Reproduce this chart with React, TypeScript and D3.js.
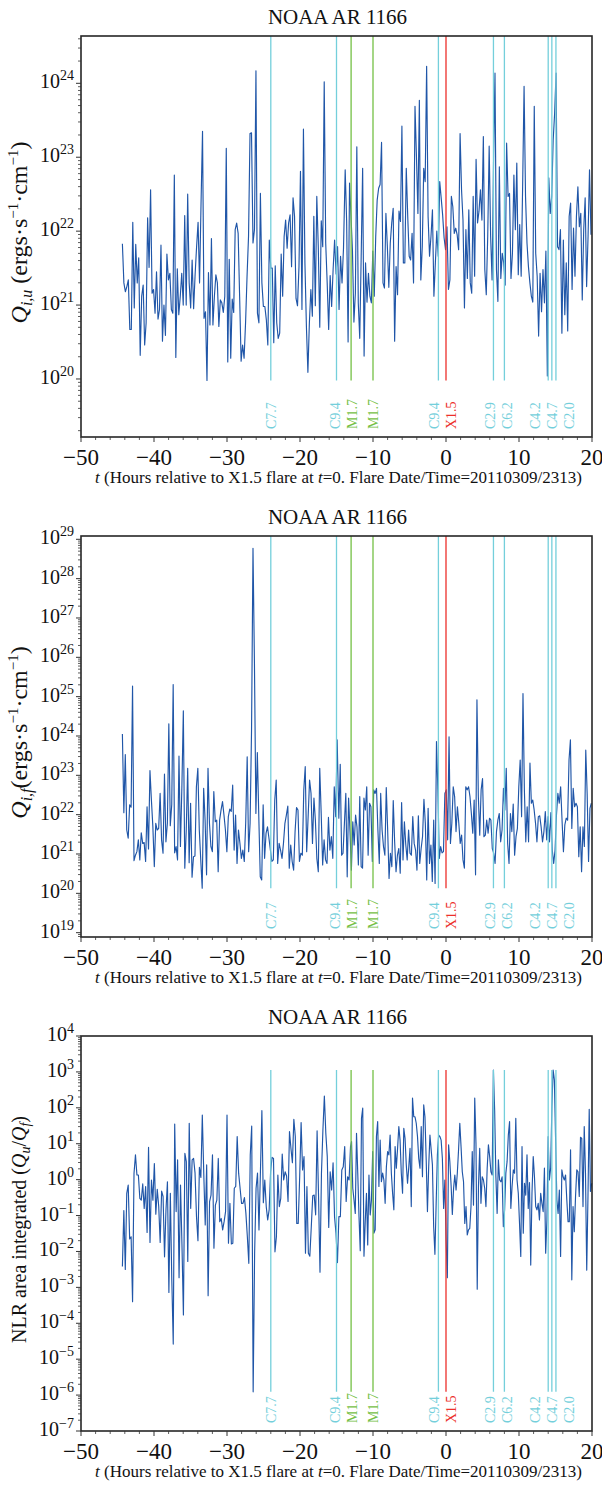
import React from 'react';
import * as d3 from 'd3';

// ---------------- DATA (log10 of the plotted quantity) ----------------
// Each series is sampled in two segments; times are hours relative to the X1.5 flare.
const qiuSpanA = [-44.33, -14.04];
const qiuLog10A = [
  21.83, 21.30, 21.18, 21.25, 21.34, 20.67, 20.67, 22.12, 20.96, 21.82,
  21.30, 21.64, 20.32, 21.12, 21.27, 20.46, 20.76, 22.18, 21.51, 22.56,
  21.16, 21.21, 20.89, 21.45, 20.81, 20.94, 21.81, 20.51, 21.00, 20.59,
  21.69, 21.34, 21.43, 20.94, 20.89, 22.76, 20.29, 21.49, 20.87, 21.12,
  21.43, 21.00, 22.21, 21.00, 22.50, 21.30, 20.96, 21.61, 20.95, 21.41,
  21.79, 22.12, 21.30, 22.38, 23.35, 20.82, 20.91, 19.98, 21.44, 20.73,
  21.90, 20.73, 21.12, 21.41, 21.30, 20.71, 21.07, 21.03, 20.90, 21.12,
  23.12, 20.23, 21.62, 20.28, 21.08, 20.90, 22.02, 22.11, 21.97, 21.12,
  20.24, 20.46, 20.28, 20.76, 21.39, 21.93, 23.32, 23.33, 21.84, 22.02,
  24.17, 20.89, 20.76, 22.51, 21.30, 20.98, 20.98, 20.80, 20.46, 21.88,
  21.50, 21.50, 20.49, 21.53, 20.76, 20.55, 20.62, 21.69, 21.12, 21.93,
  22.15, 21.77, 22.11, 22.22, 21.52, 22.45, 22.20, 21.09, 20.99, 21.52,
  22.81, 20.94, 23.38, 21.57, 20.71, 20.09, 20.76, 21.21, 20.85, 22.20,
  20.99, 22.47, 21.79, 20.70, 22.14, 21.79, 24.02, 21.84, 21.30, 20.67,
  21.40, 20.98, 21.48, 21.88, 21.42, 21.79, 20.94, 21.66, 21.30, 21.77,
];
const qiuSpanB = [-13.81, 19.86];
const qiuLog10B = [
  22.83, 22.13, 20.50, 22.65, 22.20, 21.73, 20.77, 21.16, 23.14, 21.03,
  20.55, 21.66, 22.85, 20.31, 21.57, 21.04, 21.43, 21.12, 21.03, 21.73,
  21.12, 21.93, 22.42, 22.58, 22.63, 23.20, 21.30, 21.23, 22.24, 21.79,
  21.24, 21.84, 22.11, 22.31, 20.51, 21.52, 21.14, 22.27, 22.13, 23.42,
  21.57, 21.57, 22.85, 22.20, 21.66, 21.61, 21.97, 21.30, 23.69, 23.01,
  22.24, 23.77, 21.34, 21.79, 22.85, 22.67, 24.23, 22.20, 21.66, 21.93,
  22.29, 21.12, 21.57, 22.00, 21.66, 22.67, 22.45, 22.22, 21.91, 21.75,
  22.06, 21.21, 21.34, 22.47, 22.33, 21.97, 22.04, 21.95, 21.75, 23.32,
  22.56, 22.15, 20.96, 22.02, 21.36, 22.29, 21.30, 21.16, 22.47, 21.39,
  22.97, 22.11, 22.27, 22.56, 22.15, 23.28, 21.48, 21.14, 21.93, 23.15,
  21.93, 21.34, 22.92, 24.14, 21.48, 21.05, 22.87, 21.36, 21.70, 21.57,
  21.27, 23.19, 22.47, 22.51, 21.36, 21.70, 22.76, 22.02, 22.92, 21.41,
  22.09, 21.39, 22.60, 23.96, 22.47, 21.84, 21.52, 21.30, 21.12, 21.04,
  23.69, 21.70, 21.39, 20.58, 21.43, 20.91, 21.48, 21.03, 21.73, 20.04,
  22.72, 22.24, 22.47, 23.23, 23.59, 24.14, 21.79, 21.75, 22.02, 20.62,
  21.88, 20.87, 21.57, 20.65, 22.20, 22.38, 21.21, 22.04, 21.39, 22.20,
  22.60, 22.06, 22.24, 21.07, 22.02, 22.45, 21.25, 21.93, 22.83, 21.95,
];

const qifSpanA = [-44.33, -14.91];
const qifLog10A = [
  24.05, 22.05, 23.53, 21.61, 21.40, 22.25, 22.19, 25.27, 20.83, 20.97,
  21.06, 21.36, 20.85, 21.54, 21.27, 21.29, 20.81, 22.20, 21.13, 23.12,
  22.37, 21.69, 20.68, 21.78, 21.61, 21.65, 22.54, 21.36, 21.02, 23.03,
  21.31, 21.78, 24.31, 21.72, 22.25, 25.31, 21.03, 21.19, 20.85, 23.49,
  21.19, 22.71, 24.64, 20.64, 21.61, 23.18, 20.78, 22.29, 20.41, 20.93,
  20.95, 22.71, 23.18, 21.61, 20.85, 20.13, 22.67, 21.86, 20.47, 23.18,
  21.78, 21.19, 21.06, 22.59, 21.82, 21.86, 20.55, 21.86, 22.12, 22.33,
  21.99, 21.61, 21.06, 21.95, 22.14, 22.08, 22.75, 21.10, 21.99, 20.76,
  21.61, 21.27, 20.89, 21.10, 20.81, 21.82, 23.47, 21.06, 21.78, 24.15,
  28.77, 25.85, 22.03, 23.58, 21.95, 20.42, 20.34, 22.25, 20.89, 21.53,
  21.69, 21.40, 21.10, 20.81, 20.85, 22.37, 22.88, 20.76, 21.27, 21.10,
  20.89, 21.27, 21.78, 21.99, 22.22, 20.64, 21.23, 20.81, 20.59, 21.57,
  22.18, 22.12, 20.81, 21.02, 20.97, 22.63, 23.22, 21.06, 21.95, 22.88,
  22.54, 21.27, 22.42, 21.86, 20.89, 20.55, 23.18, 22.03, 20.72, 21.36,
  20.85, 20.76, 21.93, 21.10, 21.44, 20.89, 22.71, 21.95, 23.90,
];
const qifSpanB = [-14.68, 19.91];
const qifLog10B = [
  21.91, 23.28, 20.97, 21.02, 21.78, 22.54, 20.42, 22.42, 21.57, 20.59,
  21.82, 21.23, 21.99, 21.69, 20.72, 22.46, 20.68, 20.64, 22.42, 22.12,
  22.71, 20.97, 22.29, 22.20, 20.81, 22.63, 22.54, 22.67, 21.61, 20.76,
  22.54, 21.61, 21.19, 20.97, 22.69, 21.61, 20.38, 21.02, 20.68, 22.36,
  21.31, 20.55, 20.97, 21.14, 20.51, 22.31, 20.85, 21.82, 21.23, 20.85,
  21.61, 21.02, 20.97, 21.95, 21.27, 21.10, 20.59, 21.97, 20.76, 21.14,
  21.44, 22.39, 21.78, 20.34, 22.16, 20.76, 21.23, 20.30, 21.86, 20.25,
  23.86, 22.63, 20.89, 21.19, 21.03, 21.06, 22.54, 22.63, 21.36, 23.98,
  21.27, 21.78, 22.71, 22.46, 21.57, 22.20, 21.78, 21.27, 21.48, 20.85,
  20.64, 22.71, 22.63, 22.71, 22.46, 22.03, 21.53, 22.37, 20.47, 24.92,
  22.46, 21.48, 22.63, 22.92, 21.44, 21.48, 21.86, 21.53, 21.91, 21.86,
  21.14, 21.02, 20.76, 21.57, 21.86, 22.03, 21.31, 21.61, 22.67, 22.12,
  23.18, 21.27, 20.76, 22.03, 21.57, 22.27, 20.97, 21.44, 21.65, 22.71,
  23.39, 21.95, 25.08, 22.63, 21.31, 22.20, 21.31, 23.31, 22.29, 22.37,
  22.12, 21.78, 21.31, 21.95, 21.97, 21.69, 21.31, 21.57, 22.08, 21.36,
  21.95, 21.31, 22.05, 21.10, 20.76, 21.10, 21.99, 22.54, 22.29, 22.71,
  21.86, 21.06, 21.74, 21.91, 21.86, 23.39, 23.90, 21.65, 22.67, 22.20,
  22.29, 22.20, 20.93, 21.69, 20.55, 21.69, 21.19, 23.64, 22.54, 20.81,
  22.16, 22.29,
];

const ratioSpanA = [-44.33, -13.08];
const ratioLog10A = [
  -2.42, -0.86, -2.50, -0.38, -0.15, -1.65, -1.59, -3.40, 0.18, 0.69,
  0.13, 0.13, -0.52, -0.57, -0.12, -0.80, -0.19, -1.47, 0.90, -1.75,
  -0.01, -0.57, 0.45, -0.96, -0.27, -0.75, -1.75, -0.32, -0.47, -2.15,
  -0.84, -0.06, -3.14, -0.38, -2.79, -4.58, 1.55, -0.89, 0.55, -2.73,
  -0.15, -1.82, -3.77, 0.73, 0.50, -2.28, 1.57, -0.80, 0.55, 0.59,
  0.18, -1.03, -1.70, 0.34, 0.06, 1.80, 0.18, -1.26, 0.41, -3.23,
  -0.61, -0.43, 0.69, -1.91, -0.71, -0.57, 0.59, -1.17, -1.08, -1.40,
  -1.17, -0.89, 1.80, -1.77, -0.66, -1.79, -1.77, -0.24, -0.19, 1.20,
  0.18, -0.24, -0.66, -0.66, -0.50, -0.94, -1.59, -2.33, 0.69, 1.49,
  -5.91, -2.05, -0.24, 0.18, -1.40, 0.22, 1.92, -0.64, -0.01, -0.75,
  -1.12, -0.84, 0.22, 0.62, 0.59, -2.01, -1.59, 0.13, -0.75, -0.52,
  0.71, -0.01, 0.22, 0.10, -0.61, 1.34, 0.87, 0.47, 1.68, 1.20,
  -1.22, -1.22, 0.06, 1.59, 0.27, 0.64, -2.05, -0.19, -2.05, -2.13,
  -1.31, -0.45, -0.43, -0.98, 1.36, -0.47, -2.58, 0.18, 1.38, 2.33,
  1.29, 0.64, -1.33, 0.22, -0.29, 0.47, -1.03, -1.49, -2.31, -1.03,
  -1.03, 0.27, 0.36, 0.92, -0.61, 0.08, -0.01, 0.92,
];
const ratioSpanB = [-12.94, 19.96];
const ratioLog10B = [
  1.06, -0.24, -0.57, -0.94, 1.29, 0.18, -1.03, -1.98, 1.71, 1.99,
  -2.13, -1.17, -0.38, -1.82, 0.13, -0.98, -0.57, 0.78, -1.49, -1.40,
  1.20, 1.62, -0.19, 1.10, -0.06, 0.18, -0.01, -0.66, 0.36, 0.78,
  0.69, 1.24, 0.18, -0.38, -0.84, 0.92, 0.32, 0.87, 1.48, 1.10,
  0.18, -0.38, 1.43, 1.15, 0.41, -0.10, 0.36, 0.87, -0.75, 2.27,
  1.75, 1.75, 1.57, 1.20, 0.59, 0.32, 1.48, 0.08, 2.08, 1.75,
  0.55, -0.89, 0.36, 1.24, 0.83, 0.41, -1.31, -2.08, -0.66, 0.69,
  1.24, 1.20, 1.10, 0.59, -0.80, -0.01, -1.68, -2.73, 0.97, 0.50,
  -0.15, -0.97, -0.24, 0.13, -0.29, 0.18, 0.83, 1.57, 0.92, 0.22,
  -0.06, -1.22, -0.75, -1.54, -1.40, -1.36, -0.75, 0.78, -0.71, 2.27,
  1.01, -3.05, -0.19, 0.87, -0.66, 0.08, -0.01, -0.24, -0.75, 0.32,
  0.97, 0.64, 0.22, 0.13, 3.05, 1.94, 0.08, -0.94, 0.55, -0.01,
  -0.06, 0.08, -1.31, -0.84, 0.18, 0.50, 1.24, 1.62, -0.80, -0.19,
  0.27, 0.18, 1.71, -0.01, -0.38, -1.22, -2.14, 0.92, -1.49, -0.10,
  -0.43, 0.69, -0.80, -0.08, -2.38, -0.38, 0.64, 0.08, -0.75, -0.84,
  -0.66, -1.12, -0.38, -0.66, -0.89, 0.32, -2.05, -1.12, 1.20, -0.01,
  0.32, 2.03, 3.05, 2.78, 1.10, -0.57, -0.94, -0.29, -2.14, 0.27,
  0.08, -0.01, 0.13, -0.57, -1.17, -1.17, 0.83, -2.79, -0.75, -1.45,
  -0.47, 0.27, 0.22, -0.47, 1.18, 1.15, -0.75, 1.48, 0.18, -2.52,
  -0.47, 1.96, -0.33, -0.10,
];

// Flares (hours relative to X1.5) and their GOES class labels
const flareTimes = [-24.0, -15.0, -13.0, -10.0, -1.04, 0.0, 6.5, 8.0, 14.0, 14.5, 15.06];
const flareNames = ['C7.7', 'C9.4', 'M1.7', 'M1.7', 'C9.4', 'X1.5', 'C2.9', 'C6.2', 'C4.2', 'C4.7', 'C2.0'];

const xTickValues = [-50, -40, -30, -20, -10, 0, 10, 20];
const xDomain = [-50, 20];
const panelTitle = 'NOAA AR 1166';
const xTitleParts = ['t', ' (Hours relative to X1.5 flare at ', 't', '=0. Flare Date/Time=20110309/2313)'];

// y-axis decades shown as major ticks for each panel
const qiuDecades = [20, 21, 22, 23, 24];
const qifDecades = [19, 20, 21, 22, 23, 24, 25, 26, 27, 28, 29];
const ratioDecades = [-7, -6, -5, -4, -3, -2, -1, 0, 1, 2, 3, 4];
const qiuDomainLog = [19.215, 24.64];
const qifDomainLog = [18.89, 29.084];
const ratioDomainLog = [-7, 4];

// ---------------- STYLE / LAYOUT ----------------
const FONT = "'Liberation Serif', 'Times New Roman', Times, serif";
const LEFT = 81;
const RIGHT = 592;
const DATA_COLOR = '#2056a8';
const FLARE_COLORS: Record<string, string> = { C: '#74cfdb', M: '#74c045', X: '#ec2f2a' };

type Pt = { t: number; v: number };

function toPoints(span: number[], logs: number[]): Pt[] {
  const n = logs.length;
  return logs.map((lv, i) => ({ t: span[0] + ((span[1] - span[0]) * i) / (n - 1), v: Math.pow(10, lv) }));
}

function layoutLabels(xs: number[], gap: number): number[] {
  const p = xs.slice();
  for (let it = 0; it < 200; it++) {
    let moved = false;
    for (let i = 1; i < p.length; i++) {
      const d = p[i] - p[i - 1];
      if (d < gap - 0.01) {
        const push = (gap - d) / 2;
        p[i - 1] -= push;
        p[i] += push;
        moved = true;
      }
    }
    if (!moved) break;
  }
  return p;
}

function YLabel({ kind }: { kind: number }) {
  if (kind === 2) {
    return (
      <>
        <tspan>NLR area integrated (</tspan>
        <tspan fontStyle="italic">Q</tspan>
        <tspan fontStyle="italic" fontSize={14} dy={4}>u</tspan>
        <tspan dy={-4}>/</tspan>
        <tspan fontStyle="italic">Q</tspan>
        <tspan fontStyle="italic" fontSize={14} dy={4}>f</tspan>
        <tspan dy={-4}>)</tspan>
      </>
    );
  }
  return (
    <>
      <tspan fontStyle="italic">Q</tspan>
      <tspan fontStyle="italic" fontSize={16} dy={5}>{kind === 0 ? 'i,u' : 'i,f'}</tspan>
      <tspan dy={-5}>{kind === 0 ? ' (ergs·s' : '(ergs·s'}</tspan>
      <tspan fontSize={15} dy={-9}>−1</tspan>
      <tspan dy={9}>·cm</tspan>
      <tspan fontSize={15} dy={-9}>−1</tspan>
      <tspan dy={9}>)</tspan>
    </>
  );
}

function Panel(props: {
  top: number;
  bottom: number;
  domainLog: number[];
  decades: number[];
  points: Pt[];
  kind: number;
  flareTopAtMax: boolean;
}) {
  const { top, bottom, domainLog, decades, points, kind, flareTopAtMax } = props;
  const x = d3.scaleLinear().domain(xDomain).range([LEFT, RIGHT]);
  const y = d3.scaleLog().domain([Math.pow(10, domainLog[0]), Math.pow(10, domainLog[1])]).range([bottom, top]);

  const line = d3
    .line<Pt>()
    .x((d) => x(d.t))
    .y((d) => y(d.v));

  const minors: number[] = [];
  for (let k = Math.floor(domainLog[0]); k <= Math.ceil(domainLog[1]); k++) {
    for (let m = 2; m <= 9; m++) {
      const v = m * Math.pow(10, k);
      const lv = Math.log10(v);
      if (lv >= domainLog[0] && lv <= domainLog[1]) minors.push(v);
    }
  }
  const xMinor = d3.range(xDomain[0], xDomain[1] + 0.001, 2).filter((t) => t % 10 !== 0);

  const vMin = d3.min(points, (d) => d.v) as number;
  const vMax = d3.max(points, (d) => d.v) as number;
  const lineY0 = y(vMin);
  const lineY1 = flareTopAtMax ? y(vMax) : top;
  const flareX = flareTimes.map((t) => x(t));
  const labelX = layoutLabels(flareX, 17);

  const cy = (top + bottom) / 2 - 4;

  return (
    <g>
      <text x={(LEFT + RIGHT) / 2 + 1} y={top - 12} textAnchor="middle" fontSize={21} fontFamily={FONT} fill="#111">
        {panelTitle}
      </text>
      {/* data line */}
      <path d={line(points) || ''} fill="none" stroke={DATA_COLOR} strokeWidth={1.15} strokeLinejoin="round" />
      {/* flare markers */}
      {flareTimes.map((t, i) => {
        const c = FLARE_COLORS[flareNames[i][0]];
        return (
          <g key={'f' + i}>
            <line x1={flareX[i]} x2={flareX[i]} y1={lineY0} y2={lineY1} stroke={c} strokeWidth={1.3} />
            <text
              transform={`translate(${labelX[i] + 5},${bottom - 8}) rotate(-90)`}
              fontSize={14}
              fontFamily={FONT}
              fill={c}
            >
              {flareNames[i]}
            </text>
          </g>
        );
      })}
      {/* frame */}
      <rect x={LEFT} y={top} width={RIGHT - LEFT} height={bottom - top} fill="none" stroke="#262626" strokeWidth={1.6} />
      {/* y ticks */}
      {minors.map((v, i) => (
        <line key={'ym' + i} x1={LEFT - 3} x2={LEFT} y1={y(v)} y2={y(v)} stroke="#333" strokeWidth={0.8} />
      ))}
      {decades.map((k) => {
        const yy = y(Math.pow(10, k));
        return (
          <g key={'yM' + k}>
            <line x1={LEFT - 5} x2={LEFT} y1={yy} y2={yy} stroke="#333" strokeWidth={1} />
            <text x={LEFT - 7} y={yy + 5} textAnchor="end" fontSize={20} fontFamily={FONT} fill="#111">
              10
              <tspan fontSize={14} dy={-8}>
                {k < 0 ? '−' + Math.abs(k) : String(k)}
              </tspan>
            </text>
          </g>
        );
      })}
      {/* x ticks */}
      {xMinor.map((t) => (
        <line key={'xm' + t} x1={x(t)} x2={x(t)} y1={bottom} y2={bottom + 3} stroke="#333" strokeWidth={0.8} />
      ))}
      {xTickValues.map((t) => (
        <g key={'xM' + t}>
          <line x1={x(t)} x2={x(t)} y1={bottom} y2={bottom + 5} stroke="#333" strokeWidth={1} />
          <text x={x(t)} y={bottom + 28} textAnchor="middle" fontSize={23} fontFamily={FONT} fill="#111">
            {t < 0 ? '−' + Math.abs(t) : String(t)}
          </text>
        </g>
      ))}
      <text x={(LEFT + RIGHT) / 2 + 2} y={bottom + 46} textAnchor="middle" fontSize={17} fontFamily={FONT} fill="#111">
        <tspan fontStyle="italic">{xTitleParts[0]}</tspan>
        <tspan>{xTitleParts[1]}</tspan>
        <tspan fontStyle="italic">{xTitleParts[2]}</tspan>
        <tspan>{xTitleParts[3]}</tspan>
      </text>
      <text
        transform={`translate(${kind === 2 ? 26 : 27},${cy}) rotate(-90)`}
        textAnchor="middle"
        fontSize={kind === 2 ? 20 : 24}
        fontFamily={FONT}
        fill="#111"
      >
        <YLabel kind={kind} />
      </text>
    </g>
  );
}

export default function App() {
  const qiu = toPoints(qiuSpanA, qiuLog10A).concat(toPoints(qiuSpanB, qiuLog10B));
  const qif = toPoints(qifSpanA, qifLog10A).concat(toPoints(qifSpanB, qifLog10B));
  const ratio = toPoints(ratioSpanA, ratioLog10A).concat(toPoints(ratioSpanB, ratioLog10B));
  return (
    <svg
      width={602}
      height={1488}
      style={{ position: 'absolute', left: 0, top: 0, background: '#fff' }}
      xmlns="http://www.w3.org/2000/svg"
    >
      <rect x={0} y={0} width={602} height={1488} fill="#fff" />
      <Panel top={36} bottom={437} domainLog={qiuDomainLog} decades={qiuDecades} points={qiu} kind={0} flareTopAtMax={false} />
      <Panel top={536} bottom={937} domainLog={qifDomainLog} decades={qifDecades} points={qif} kind={1} flareTopAtMax={false} />
      <Panel top={1036} bottom={1431} domainLog={ratioDomainLog} decades={ratioDecades} points={ratio} kind={2} flareTopAtMax={true} />
    </svg>
  );
}
